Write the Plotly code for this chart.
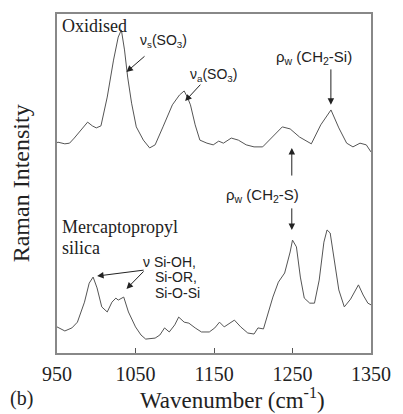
import plotly.graph_objects as go

# ---- data ----
wn_oxidised = [950, 951, 960, 966, 972, 981, 989, 995, 1000, 1006, 1014, 1022, 1028, 1032, 1036,
               1040, 1045, 1051, 1060, 1068, 1075, 1085, 1097, 1106, 1112, 1116, 1120, 1126, 1132,
               1141, 1149, 1156, 1162, 1172, 1181, 1191, 1201, 1212, 1224, 1237, 1247, 1259, 1274,
               1286, 1299, 1309, 1319, 1327, 1336, 1344, 1350]
int_oxidised = [61.9, 62.2, 61.7, 61.9, 63.4, 65.8, 68.1, 67.0, 66.4, 67.0, 75.5, 86.4, 93.2, 95.3,
                89.4, 81.4, 73.7, 66.7, 62.8, 60.5, 61.4, 66.7, 73.2, 76.1, 77.3, 75.5, 73.2, 67.3,
                62.8, 61.9, 61.4, 62.5, 61.9, 63.4, 62.8, 61.4, 60.8, 60.8, 63.7, 66.7, 66.1, 63.7,
                61.7, 67.3, 71.7, 66.4, 61.9, 60.8, 61.9, 61.4, 59.3]

wn_mercapto = [950, 960, 969, 976, 985, 991, 996, 1001, 1007, 1014, 1020, 1025, 1028, 1035, 1041,
               1050, 1057, 1063, 1075, 1081, 1087, 1093, 1100, 1105, 1112, 1118, 1126, 1134, 1144,
               1151, 1157, 1163, 1176, 1184, 1193, 1201, 1206, 1213, 1219, 1225, 1232, 1240, 1247,
               1250, 1255, 1260, 1265, 1272, 1278, 1284, 1290, 1294, 1298, 1303, 1309, 1316, 1324,
               1334, 1340, 1346, 1350]
int_mercapto = [7.7, 6.5, 7.4, 9.1, 15.0, 20.6, 22.4, 19.2, 13.6, 12.1, 15.0, 16.2, 15.6, 16.5, 12.1,
                7.7, 5.3, 4.1, 4.4, 5.3, 7.4, 6.2, 8.3, 10.6, 9.1, 8.8, 7.4, 6.2, 6.2,
                7.4, 9.1, 7.7, 9.7, 7.7, 5.9, 5.6, 7.4, 7.1, 11.8, 16.5, 20.9, 23.6, 29.8,
                33.3, 31.3, 22.4, 16.2, 14.7, 14.7, 21.5, 32.7, 36.3, 35.4, 27.4, 18.6, 13.6, 15.9,
                20.1, 17.1, 14.7, 14.2]

x_ticks = [950, 1050, 1150, 1250, 1350]

SERIF = "Liberation Serif, Times New Roman, serif"
SANS = "Liberation Sans, Arial, sans-serif"
TXT = "#222222"

fig = go.Figure()
for wn, it in [(wn_oxidised, int_oxidised), (wn_mercapto, int_mercapto)]:
    fig.add_trace(go.Scatter(x=wn, y=it, mode="lines",
                             line=dict(color="#555555", width=1), showlegend=False))

ann = []
# serif labels
ann.append(dict(x=953.5, y=96.5, text="Oxidised", xanchor="left", yanchor="middle",
                showarrow=False, font=dict(family=SERIF, size=18, color=TXT)))
ann.append(dict(x=953.5, y=37.2, text="Mercaptopropyl", xanchor="left", yanchor="middle",
                showarrow=False, font=dict(family=SERIF, size=18, color=TXT)))
ann.append(dict(x=953.5, y=31.0, text="silica", xanchor="left", yanchor="middle",
                showarrow=False, font=dict(family=SERIF, size=18, color=TXT)))

# sans labels
sans = dict(family=SANS, size=14, color=TXT)
ann.append(dict(x=1085.8, y=92.0, text="ν<sub>s</sub>(SO<sub>3</sub>)", showarrow=False, font=sans))
ann.append(dict(x=1149.4, y=82.0, text="ν<sub>a</sub>(SO<sub>3</sub>)", showarrow=False, font=sans))
ann.append(dict(x=1277.7, y=87.3, text="ρ<sub>w</sub> (CH<sub>2</sub>-Si)", showarrow=False,
                font=dict(family=SANS, size=15, color=TXT)))
ann.append(dict(x=1211.7, y=46.6, text="ρ<sub>w</sub> (CH<sub>2</sub>-S)", showarrow=False,
                font=dict(family=SANS, size=15, color=TXT)))
ann.append(dict(x=1057.2, y=26.8, text="ν Si-OH,", xanchor="left", showarrow=False, font=sans))
ann.append(dict(x=1072.1, y=22.4, text="Si-OR,", xanchor="left", showarrow=False, font=sans))
ann.append(dict(x=1072.1, y=17.7, text="Si-O-Si", xanchor="left", showarrow=False, font=sans))

# arrows: (head_x, head_y, tail_x, tail_y)
arrows = [
    (1038.5, 82.9, 1063.4, 87.9),
    (1113.2, 74.3, 1134.4, 79.6),
    (1298.9, 73.2, 1298.9, 84.1),
    (1249.1, 60.5, 1249.1, 51.9),
    (1249.1, 36.3, 1249.1, 43.1),
    (1001.1, 22.7, 1062.2, 24.5),
    (1038.5, 18.9, 1062.2, 24.5),
]
for hx, hy, tx, ty in arrows:
    ann.append(dict(x=hx, y=hy, ax=tx, ay=ty, axref="x", ayref="y", xref="x", yref="y",
                    text="", showarrow=True, arrowhead=2, arrowsize=1.3, arrowwidth=1,
                    arrowcolor="#222222", standoff=0, startstandoff=0))

# axis titles and panel label
ann.append(dict(xref="paper", yref="paper", x=-0.1153, y=0.5, text="Raman Intensity",
                textangle=-90, showarrow=False, xanchor="center", yanchor="middle",
                font=dict(family=SERIF, size=24, color=TXT)))
ann.append(dict(xref="paper", yref="paper", x=0.5576, y=-0.133,
                text="Wavenumber (cm<sup>-1</sup>)", showarrow=False,
                xanchor="center", yanchor="middle", font=dict(family=SERIF, size=23, color=TXT)))
ann.append(dict(xref="paper", yref="paper", x=-0.112, y=-0.133, text="(b)",
                showarrow=False, xanchor="center", yanchor="middle",
                font=dict(family=SERIF, size=20, color=TXT)))

fig.update_layout(
    width=403, height=414,
    margin=dict(l=57, r=25, t=14, b=61),
    paper_bgcolor="white", plot_bgcolor="white",
    annotations=ann,
    xaxis=dict(range=[950, 1350], tickvals=x_ticks, ticktext=[str(t) for t in x_ticks],
               ticks="inside", ticklen=5, tickwidth=1, tickcolor="#555555",
               showline=True, linecolor="#888888", linewidth=1.5, mirror=True,
               showgrid=False, zeroline=False, ticklabelstandoff=2,
               tickfont=dict(family=SERIF, size=20, color=TXT)),
    yaxis=dict(range=[0, 100], showticklabels=False, ticks="",
               showline=True, linecolor="#888888", linewidth=1.5, mirror=True,
               showgrid=False, zeroline=False),
)

fig.write_html("out.html")
